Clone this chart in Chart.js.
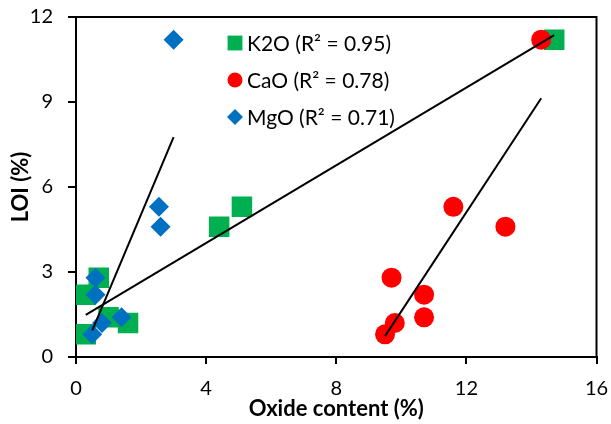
<!DOCTYPE html>
<html>
<head>
<meta charset="utf-8">
<title>LOI vs oxide content</title>
<script src="https://cdn.jsdelivr.net/npm/chart.js@4.4.1/dist/chart.umd.min.js"></script>
<style>
  html, body { margin: 0; padding: 0; background: #fff; }
  #wrap { width: 611px; height: 424px; }
</style>
</head>
<body>
<div id="wrap"><canvas id="loiChart" width="611" height="424"></canvas></div>
<script>
// LOI (%) of each sample, shared by all three oxides
const loi = [0.8, 1.2, 1.4, 2.2, 2.8, 4.6, 5.3, 11.2];
// Oxide content (%) per sample, same order as loi
const k2o = [0.3, 1.6, 1.0, 0.3, 0.7, 4.4, 5.1, 14.7];
const cao = [9.5, 9.8, 10.7, 10.7, 9.7, 13.2, 11.6, 14.3];
const mgo = [0.5, 0.8, 1.4, 0.6, 0.6, 2.6, 2.55, 3.0];

const seriesLabels = ['K2O (R² = 0.95)', 'CaO (R² = 0.78)', 'MgO (R² = 0.71)'];
const xTicks = [0, 4, 8, 12, 16];
const yTicks = [0, 3, 6, 9, 12];

const FONT = 'Lato, "Open Sans", sans-serif';

function toPoints(xs, ys) {
    return xs.map((x, i) => ({ x: x, y: ys[i] }));
}

// least-squares line of LOI on oxide content, drawn over the data's x range
function trend(xs, ys) {
    const n = xs.length;
    const mx = xs.reduce((a, b) => a + b, 0) / n;
    const my = ys.reduce((a, b) => a + b, 0) / n;
    let sxy = 0, sxx = 0;
    for (let i = 0; i < n; i++) {
        sxy += (xs[i] - mx) * (ys[i] - my);
        sxx += (xs[i] - mx) * (xs[i] - mx);
    }
    const slope = sxy / sxx;
    const icpt = my - slope * mx;
    const x0 = Math.min(...xs), x1 = Math.max(...xs);
    return [{ x: x0, y: icpt + slope * x0 }, { x: x1, y: icpt + slope * x1 }];
}

function trendSet(xs, ys) {
    return {
        type: 'line',
        data: trend(xs, ys),
        borderColor: '#000',
        borderWidth: 2,
        pointRadius: 0,
        fill: false,
        order: 0
    };
}

// frame around the plot area (Excel style border)
const plotFrame = {
    id: 'plotFrame',
    beforeDatasetsDraw(chart) {
        const { ctx, chartArea: a } = chart;
        ctx.save();
        ctx.strokeStyle = '#000';
        ctx.lineWidth = 2;
        ctx.strokeRect(a.left, a.top, a.right - a.left, a.bottom - a.top);
        ctx.restore();
    }
};

// legend drawn inside the plot area, in seriesLabels order
const innerLegend = {
    id: 'innerLegend',
    afterDatasetsDraw(chart) {
        const { ctx, chartArea: a } = chart;
        ctx.save();
        ctx.font = '21px ' + FONT;
        ctx.textBaseline = 'middle';
        seriesLabels.forEach((lbl, i) => {
            const d = chart.data.datasets.find(ds => ds.label === lbl);
            const cx = a.left + 159;
            const cy = a.top + 26 + i * 37;
            ctx.fillStyle = d.backgroundColor;
            ctx.strokeStyle = d.backgroundColor;
            Chart.helpers.drawPoint(ctx, {
                pointStyle: d.pointStyle,
                radius: d.legendRadius,
                borderWidth: 0
            }, cx, cy);
            ctx.fillStyle = '#000';
            ctx.fillText(lbl, cx + 12, cy + 1);
        });
        ctx.restore();
    }
};

const ctx = document.getElementById('loiChart').getContext('2d');
const loiChart = new Chart(ctx, {
    type: 'scatter',
    data: {
        datasets: [
            trendSet(k2o, loi),
            trendSet(cao, loi),
            trendSet(mgo, loi),
            {
                label: seriesLabels[2],
                data: toPoints(mgo, loi),
                pointStyle: 'rectRot',
                pointRadius: 10,
                backgroundColor: '#0070C0',
                borderColor: '#0070C0',
                borderWidth: 0,
                legendRadius: 8,
                order: 1
            },
            {
                label: seriesLabels[1],
                data: toPoints(cao, loi),
                pointStyle: 'circle',
                pointRadius: 10,
                backgroundColor: '#FF0000',
                borderColor: '#FF0000',
                borderWidth: 0,
                legendRadius: 7.5,
                order: 2
            },
            {
                label: seriesLabels[0],
                data: toPoints(k2o, loi),
                pointStyle: 'rect',
                pointRadius: 14.5,
                backgroundColor: '#00B050',
                borderColor: '#00B050',
                borderWidth: 0,
                legendRadius: 10.5,
                order: 3
            }
        ]
    },
    options: {
        responsive: false,
        animation: false,
        events: [],
        layout: { padding: { left: 0, top: 17, right: 13, bottom: 0 } },
        plugins: {
            legend: { display: false },
            tooltip: { enabled: false }
        },
        scales: {
            x: {
                type: 'linear',
                min: 0,
                max: 16,
                afterBuildTicks: (s) => { s.ticks = xTicks.map(v => ({ value: v })); },
                afterFit: (s) => { s.height = 67; s.paddingLeft = 0; s.paddingRight = 0; },
                border: { display: true, color: '#000', width: 2 },
                grid: { drawOnChartArea: false, drawTicks: true, tickLength: 7, color: '#000', lineWidth: 2 },
                ticks: { color: '#000', padding: 13, font: { family: FONT, size: 20 } },
                title: {
                    display: true,
                    text: 'Oxide content (%)',
                    color: '#000',
                    padding: { top: 0, bottom: 2 },
                    font: { family: FONT, size: 22, weight: 'bold' }
                }
            },
            y: {
                type: 'linear',
                min: 0,
                max: 12,
                afterBuildTicks: (s) => { s.ticks = yTicks.map(v => ({ value: v })); },
                afterFit: (s) => { s.width = 76; s.paddingTop = 0; s.paddingBottom = 0; },
                border: { display: true, color: '#000', width: 2 },
                grid: { drawOnChartArea: false, drawTicks: true, tickLength: 8, color: '#000', lineWidth: 2 },
                ticks: { color: '#000', padding: 15, font: { family: FONT, size: 20 } },
                title: {
                    display: true,
                    text: 'LOI (%)',
                    color: '#000',
                    padding: { top: 8, bottom: 0 },
                    font: { family: FONT, size: 22, weight: 'bold' }
                }
            }
        }
    },
    plugins: [plotFrame, innerLegend]
});
</script>
</body>
</html>
